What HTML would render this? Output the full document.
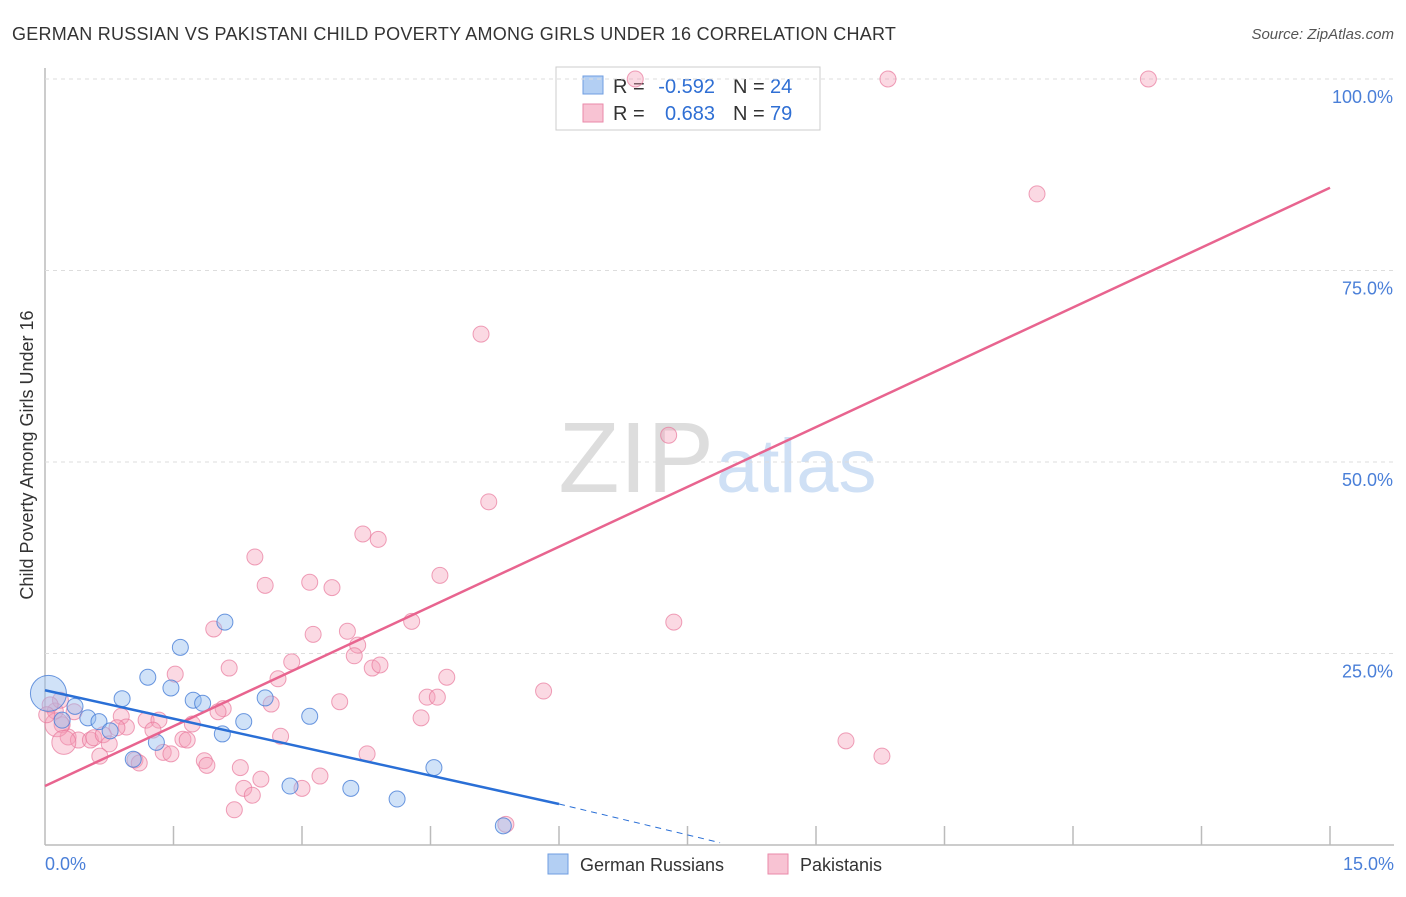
<!DOCTYPE html>
<html><head><meta charset="utf-8"><style>
body{margin:0;background:#fff;font-family:"Liberation Sans",sans-serif}
svg text{font-family:"Liberation Sans",sans-serif}
</style></head><body>
<svg id="c" width="1406" height="892">
<text x="12" y="40" font-size="18" fill="#333" letter-spacing="0.25">GERMAN RUSSIAN VS PAKISTANI CHILD POVERTY AMONG GIRLS UNDER 16 CORRELATION CHART</text>
<text x="1394" y="39" font-size="15" fill="#555" text-anchor="end" font-style="italic">Source: ZipAtlas.com</text>
<text x="714" y="492" font-size="100" fill="#ddd" text-anchor="end" font-family="Liberation Serif">ZIP</text>
<text x="716" y="492" font-size="76" fill="#cfe0f5">atlas</text>
<text transform="translate(33,455) rotate(-90)" font-size="18" fill="#333" text-anchor="middle">Child Poverty Among Girls Under 16</text>
<g>
<rect x="556" y="67" width="264" height="63" fill="#fff" stroke="#ccc"/>
<rect x="583" y="76" width="20" height="18" fill="#b3cff3" stroke="#6f9ee0"/>
<rect x="583" y="104" width="20" height="18" fill="#f8c3d3" stroke="#ea8aa9"/>
<text x="613" y="93" font-size="20" fill="#333">R =</text>
<text x="715" y="93" font-size="20" fill="#2f6fd4" text-anchor="end">-0.592</text>
<text x="733" y="93" font-size="20" fill="#333">N =</text>
<text x="770" y="93" font-size="20" fill="#2f6fd4">24</text>
<text x="613" y="120" font-size="20" fill="#333">R =</text>
<text x="715" y="120" font-size="20" fill="#2f6fd4" text-anchor="end">0.683</text>
<text x="733" y="120" font-size="20" fill="#333">N =</text>
<text x="770" y="120" font-size="20" fill="#2f6fd4">79</text>
</g>
<g id="grid"></g><g id="pts"></g><g id="lines"></g>
<g>
<rect x="548" y="854" width="20" height="20" fill="#b3cff3" stroke="#6f9ee0"/>
<text x="580" y="871" font-size="18" fill="#333">German Russians</text>
<rect x="768" y="854" width="20" height="20" fill="#f8c3d3" stroke="#ea8aa9"/>
<text x="800" y="871" font-size="18" fill="#333">Pakistanis</text>
</g>
</svg>
<script>
const xTicks=[0,1.5,3,4.5,6,7.5,9,10.5,12,13.5,15];
const yTicks=[25,50,75,100];
const yTickLabels=["25.0%","50.0%","75.0%","100.0%"];
const blueX=[0.04,0.35,0.20,0.50,0.63,0.76,0.90,1.03,1.20,1.30,1.47,1.58,1.73,1.84,2.07,2.10,2.32,2.57,3.09,2.86,3.57,4.11,4.54,5.35];
const blueY=[19.8,18.1,16.3,16.6,16.1,14.9,19.1,11.2,21.9,13.4,20.5,25.8,18.9,18.5,14.5,29.1,16.1,19.2,16.8,7.7,7.4,6.0,10.1,2.5];
const pinkX=[6.89,9.84,12.88,11.58,5.09,7.28,5.18,3.71,3.89,2.45,4.61,2.57,3.09,3.35,4.28,7.34,1.97,3.13,3.53,3.65,2.88,1.52,3.61,2.15,3.82,3.91,4.69,2.72,4.46,4.58,5.82,3.44,2.08,2.64,2.02,4.39,0.89,1.18,1.33,1.72,0.95,1.26,0.84,0.34,0.20,0.12,0.27,0.39,0.53,0.57,0.68,0.75,0.64,0.14,0.22,1.38,1.47,1.05,1.10,1.61,1.66,2.75,1.86,1.89,2.28,2.52,2.32,2.42,3.21,3.00,3.76,2.21,9.35,9.77,5.38,0.18,0.06,0.02];
const pinkY=[100,100,100,85.0,66.7,53.5,44.8,40.6,39.9,37.6,35.2,33.9,34.3,33.6,29.2,29.1,28.2,27.5,27.9,26.1,23.9,22.3,24.7,23.1,23.1,23.5,21.9,21.7,19.3,19.3,20.1,18.7,17.8,18.4,17.4,16.6,16.8,16.3,16.3,15.8,15.4,15.0,15.3,17.4,15.7,17.5,14.1,13.7,13.7,14.0,14.4,13.2,11.6,15.7,13.4,12.1,11.9,11.1,10.7,13.8,13.7,14.2,11.0,10.4,10.1,8.6,7.4,6.5,9.0,7.4,11.9,4.6,13.6,11.6,2.7,18.9,18.3,17.0];
const blueLine=[[0,20.2],[6.0,5.35]];
const blueDash=[[6.0,5.35],[7.88,0.3]];
const pinkLine=[[0,7.7],[15,85.8]];
const sx=v=>45+v/15*1285;
const sy=v=>845-v*7.66;
const NS="http://www.w3.org/2000/svg";
function mk(t,a,p){const e=document.createElementNS(NS,t);for(const k in a)e.setAttribute(k,a[k]);p.appendChild(e);return e;}
const grid=document.getElementById('grid'),pts=document.getElementById('pts'),lines=document.getElementById('lines');
let ax=mk('line',{x1:45,y1:68,x2:45,y2:845,stroke:'#bbb','stroke-width':1.5},grid);


let bx=mk('line',{x1:45,y1:845,x2:1394,y2:845,stroke:'#bbb','stroke-width':1.5},grid);


yTicks.forEach((v,i)=>{
 let g=mk('line',{x1:45,y1:sy(v),x2:1394,y2:sy(v),stroke:'#ddd','stroke-dasharray':'4 4'},grid);
 
 
 let t=mk('text',{x:1393,y:sy(v)+24,'font-size':18,fill:'#4a7fd8','text-anchor':'end'},grid);t.textContent=yTickLabels[i];
 
 
});
xTicks.forEach((v,i)=>{if(i==0)return;
 let l=mk('line',{x1:sx(v),y1:826,x2:sx(v),y2:845,stroke:'#bbb','stroke-width':1.5},grid);
 
 
});
let t0=mk('text',{x:45,y:870,'font-size':18,fill:'#4a7fd8'},grid);t0.textContent='0.0%';


let t1=mk('text',{x:1394,y:870,'font-size':18,fill:'#4a7fd8','text-anchor':'end'},grid);t1.textContent='15.0%';


pinkX.forEach((x,i)=>{const r=(i==53||i==54)?12:8;
 let c=mk('circle',{cx:sx(x),cy:sy(pinkY[i]),r:r,fill:'rgba(244,160,186,0.4)',stroke:'rgba(232,120,155,0.7)','stroke-width':1},pts);
 
 
});
blueX.forEach((x,i)=>{const r=i==0?18:8;
 let c=mk('circle',{cx:sx(x),cy:sy(blueY[i]),r:r,fill:'rgba(150,190,240,0.45)',stroke:'rgba(70,125,215,0.8)','stroke-width':1},pts);
 
 
});
let pl=mk('line',{x1:sx(pinkLine[0][0]),y1:sy(pinkLine[0][1]),x2:sx(pinkLine[1][0]),y2:sy(pinkLine[1][1]),stroke:'#e8648f','stroke-width':2.5},lines);


let bl=mk('line',{x1:sx(blueLine[0][0]),y1:sy(blueLine[0][1]),x2:sx(blueLine[1][0]),y2:sy(blueLine[1][1]),stroke:'#2a6fd6','stroke-width':2.5},lines);


let bd=mk('line',{x1:sx(blueDash[0][0]),y1:sy(blueDash[0][1]),x2:sx(blueDash[1][0]),y2:sy(blueDash[1][1]),stroke:'#2a6fd6','stroke-width':1,'stroke-dasharray':'6 5'},lines);


</script>
</body></html>
